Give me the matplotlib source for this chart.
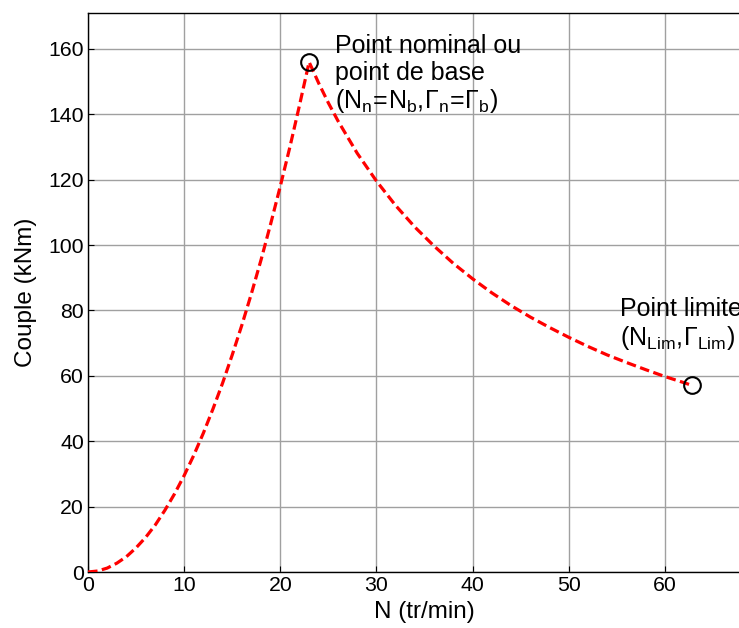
import matplotlib
matplotlib.use("Agg")
import matplotlib.pyplot as plt

plt.rcParams['font.family'] = ['Liberation Sans', 'DejaVu Sans']
plt.rcParams['mathtext.fontset'] = 'custom'
plt.rcParams['mathtext.rm'] = 'Liberation Sans'
plt.rcParams['mathtext.it'] = 'Liberation Sans'
plt.rcParams['mathtext.default'] = 'rm'

# Speed N (tr/min) and torque (kNm)
speed = [0, 1, 2, 3, 4, 5, 6, 7, 8, 9, 10, 11, 12, 13, 14, 15, 16, 17, 18, 19, 20, 21, 22, 23,
         24, 25, 26, 28, 30, 32, 34, 36, 38, 40, 42, 44, 46, 48, 50, 52, 54, 56, 58, 60, 62, 62.8]
torque = [0, 0.3, 1.2, 2.7, 4.7, 7.4, 10.6, 14.4, 18.9, 23.9, 29.5, 35.7, 42.5, 49.9, 57.8, 66.4,
          75.5, 85.2, 95.5, 106.5, 118, 130, 142.8, 156,
          149.5, 143.5, 138, 128.1, 119.6, 112.1, 105.5, 99.7, 94.4, 89.7, 85.4, 81.5, 78, 74.8,
          71.8, 69, 66.4, 64.1, 61.9, 59.8, 57.9, 57.1]
key_n = [23, 62.8]
key_t = [156, 57.1]
xticks = [0, 10, 20, 30, 40, 50, 60]
yticks = [0, 20, 40, 60, 80, 100, 120, 140, 160]

fig = plt.figure(figsize=(7.39, 6.28), dpi=100)
ax = fig.add_axes([88/739, 56/628, 673/739, 559/628])

ax.plot(speed, torque, color='#ff0000', lw=2.3, linestyle=(0, (3.0, 1.4)), zorder=3)
ax.plot(key_n, key_t, 'o', ms=12, mfc='none', mec='black', mew=1.5, zorder=4)

ax.set_xlim(0, 70)
ax.set_ylim(0, 171)
ax.set_xticks(xticks)
ax.set_yticks(yticks)
ax.grid(True, color='#a0a0a0', lw=1.0, linestyle='-')
ax.set_axisbelow(True)
ax.tick_params(direction='in', labelsize=15.3, length=4, width=0.8, pad=3)
for s in ax.spines.values():
    s.set_linewidth(1.0)
    s.set_color('black')

ax.set_xlabel('N (tr/min)', fontsize=17.5, labelpad=4)
ax.set_ylabel('Couple (kNm)', fontsize=17.5, labelpad=8)

ax.text(25.7, 164.5, 'Point nominal ou\npoint de base\n' +
        r'$\mathrm{(N_n\!=\!N_b,\!\Gamma_n\!=\!\Gamma_b)}$',
        fontsize=18, va='top', ha='left', linespacing=1.12, zorder=5)
ax.text(55.3, 84, 'Point limite\n' + r'$\mathrm{(N_{Lim},\!\Gamma_{Lim})}$',
        fontsize=18, va='top', ha='left', linespacing=1.12, zorder=5, clip_on=False)

fig.savefig('out.png', dpi=100)
